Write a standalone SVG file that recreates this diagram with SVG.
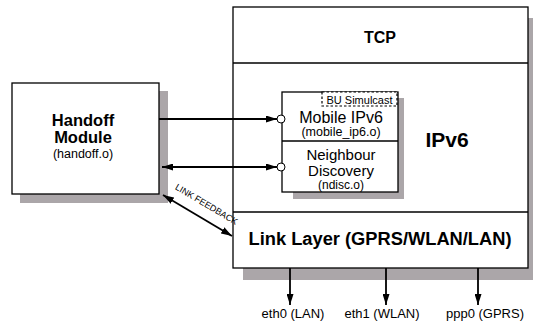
<svg xmlns="http://www.w3.org/2000/svg" width="533" height="324" viewBox="0 0 533 324">
<style>
.shadow{fill:#aba6a9;stroke:none}
.box{fill:#fff;stroke:#000;stroke-width:1.3}
.ln{stroke:#000;stroke-width:1.3;fill:none}
.conn{stroke:#000;stroke-width:1.8;fill:none}
text{font-family:"Liberation Sans",Arial,sans-serif;fill:#000;text-anchor:middle}
.b{font-weight:bold}
</style>
<defs>
<marker id="ah" viewBox="0 0 11 7" refX="11" refY="3.5" markerWidth="11" markerHeight="7" markerUnits="userSpaceOnUse" orient="auto-start-reverse">
<path d="M0,0 L11,3.5 L0,7 z" fill="#000"/>
</marker>
</defs>
<g id="stack">
<rect class="shadow" x="243" y="18" width="295" height="262"/>
<rect class="box" x="233" y="7" width="295" height="261"/>
<line class="ln" x1="233" y1="63" x2="528" y2="63"/>
<line class="ln" x1="233" y1="212" x2="528" y2="212"/>
<text class="b" x="380" y="43" font-size="16">TCP</text>
<text class="b" x="447" y="147" font-size="21">IPv6</text>
<text class="b" x="380" y="245" font-size="18.3">Link Layer (GPRS/WLAN/LAN)</text>
</g>
<g id="handoff">
<rect class="shadow" x="20" y="91" width="148" height="112"/>
<rect class="box" x="12" y="83" width="147" height="111"/>
<text class="b" x="83" y="126" font-size="16.5">Handoff</text>
<text class="b" x="83" y="143" font-size="16.5">Module</text>
<text x="83" y="158" font-size="12.5">(handoff.o)</text>
</g>
<g id="modules">
<rect class="shadow" x="293" y="98" width="111" height="101"/>
<rect class="box" x="282" y="92" width="116" height="100"/>
<line class="ln" x1="282" y1="141" x2="398" y2="141"/>
<text x="341" y="123" font-size="16">Mobile IPv6</text>
<text x="341" y="136" font-size="12.5">(mobile_ip6.o)</text>
<text x="341" y="160" font-size="15">Neighbour</text>
<text x="341" y="176" font-size="15">Discovery</text>
<text x="341" y="188.5" font-size="12">(ndisc.o)</text>
</g>
<g id="bu">
<rect x="322" y="92" width="75" height="14" fill="#fff" stroke="#000" stroke-width="1.2" stroke-dasharray="2.5,2"/>
<text x="359.5" y="104" font-size="11">BU Simulcast</text>
</g>
<g id="connectors">
<line class="conn" x1="159" y1="119" x2="277" y2="119" marker-end="url(#ah)"/>
<circle cx="281" cy="119" r="4" fill="#fff" stroke="#000" stroke-width="1"/>
<line class="conn" x1="162" y1="167" x2="277" y2="167" marker-start="url(#ah)" marker-end="url(#ah)"/>
<circle cx="281" cy="167" r="4" fill="#fff" stroke="#000" stroke-width="1"/>
<line class="conn" x1="163" y1="195" x2="232" y2="236" marker-start="url(#ah)" marker-end="url(#ah)"/>
<text x="205" y="207" font-size="9" transform="rotate(30.7 205 207)">LINK FEEDBACK</text>
<line class="conn" x1="290" y1="268" x2="290" y2="305" marker-end="url(#ah)"/>
<line class="conn" x1="386" y1="268" x2="386" y2="305" marker-end="url(#ah)"/>
<line class="conn" x1="478" y1="268" x2="478" y2="305" marker-end="url(#ah)"/>
<text x="293" y="318" font-size="13">eth0 (LAN)</text>
<text x="382" y="318" font-size="13">eth1 (WLAN)</text>
<text x="485" y="318" font-size="13">ppp0 (GPRS)</text>
</g>
</svg>
